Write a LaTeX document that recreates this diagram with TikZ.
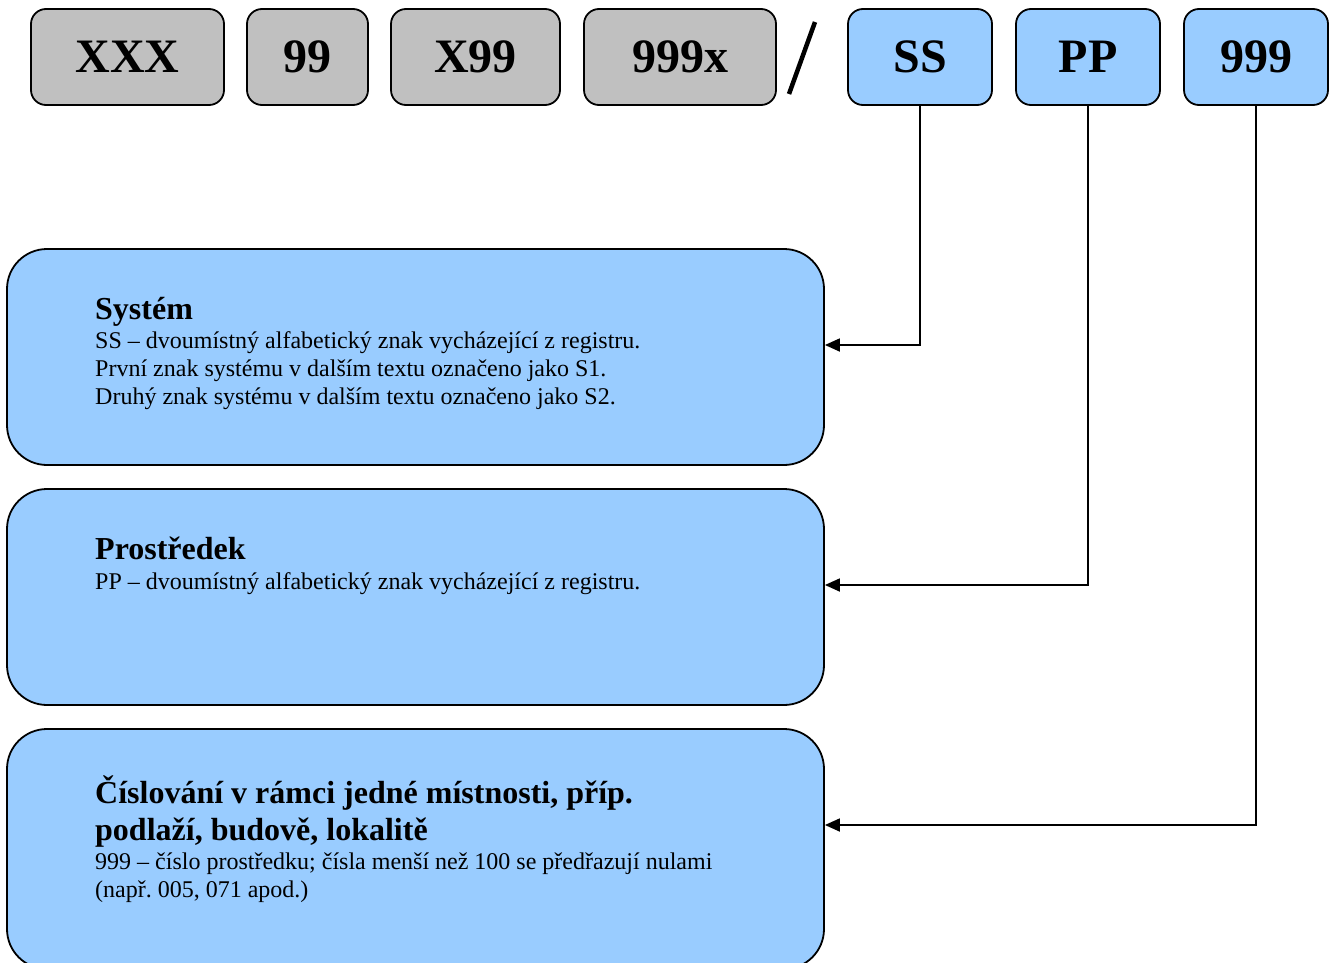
\documentclass[tikz,border=0pt]{standalone}
\usepackage{fontspec}
\setmainfont{Liberation Serif}
\usetikzlibrary{arrows.meta}
\frenchspacing
\definecolor{boxgray}{HTML}{C0C0C0}
\definecolor{boxblue}{HTML}{99CCFF}
\tikzset{
  codebox/.style={draw=black, line width=1.8pt, rounded corners=15pt, inner sep=0pt,
    font=\fontsize{48}{50}\selectfont\bfseries, minimum height=96pt},
  graybox/.style={codebox, fill=boxgray},
  bluebox/.style={codebox, fill=boxblue},
  bigbox/.style={draw=black, line width=1.8pt, rounded corners=40pt, fill=boxblue,
    minimum width=817pt, inner sep=0pt},
  ttl/.style={anchor=base west, inner sep=0pt, font=\fontsize{32}{37}\selectfont\bfseries},
  body/.style={anchor=base west, inner sep=0pt, font=\fontsize{24}{28}\selectfont},
  conn/.style={line width=1.8pt, -{Triangle[length=15pt,width=13pt]}}
}
\newcommand{\lowr}[1]{\raisebox{-4pt}{#1}}
\begin{document}
\begin{tikzpicture}[x=1pt,y=-1pt]
\useasboundingbox (0,0) rectangle (1333,963);
\begin{scope}
\clip (0,0) rectangle (1333,963);
% top code boxes
\node[graybox, minimum width=193pt] (xxx) at (127.5,57) {\lowr{XXX}};
\node[graybox, minimum width=121pt] (n99) at (307.5,57) {\lowr{99}};
\node[graybox, minimum width=169pt] (x99) at (475.5,57) {\lowr{X99}};
\node[graybox, minimum width=192pt] (n999x) at (680,57) {\lowr{999x}};
\draw[line width=4.5pt] (815,22) -- (789,94);
\node[bluebox, minimum width=144pt] (ss) at (920,57) {\lowr{SS}};
\node[bluebox, minimum width=144pt] (pp) at (1088,57) {\lowr{PP}};
\node[bluebox, minimum width=144pt] (n999) at (1256,57) {\lowr{999}};
% big boxes
\node[bigbox, minimum height=216pt] (sys) at (415.5,357) {};
\node[bigbox, minimum height=216pt] (pro) at (415.5,597) {};
\node[bigbox, minimum height=240pt] (cis) at (415.5,849) {};
% texts
\node[ttl] (t1) at (95,319) {Systém};
\node[body] (b1a) at (95,348) {SS – dvoumístný alfabetický znak vycházející z registru.};
\node[body] (b1b) at (95,376) {První znak systému v dalším textu označeno jako S1.};
\node[body] (b1c) at (95,404) {Druhý znak systému v dalším textu označeno jako S2.};
\node[ttl] (t2) at (95,559) {Prostředek};
\node[body] (b2) at (95,589) {PP – dvoumístný alfabetický znak vycházející z registru.};
\node[ttl] (t3a) at (95,803) {Číslování v rámci jedné místnosti, příp.};
\node[ttl] (t3b) at (95,840) {podlaží, budově, lokalitě};
\node[body] (b3a) at (95,869) {999 – číslo prostředku; čísla menší než 100 se předřazují nulami};
\node[body] (b3b) at (95,897) {(např. 005, 071 apod.)};
% connectors
\draw[conn] (ss.south) |- ([yshift=12pt]sys.east);
\draw[conn] (pp.south) |- ([yshift=12pt]pro.east);
\draw[conn] (n999.south) |- ([yshift=24pt]cis.east);
\end{scope}
\end{tikzpicture}
\end{document}
